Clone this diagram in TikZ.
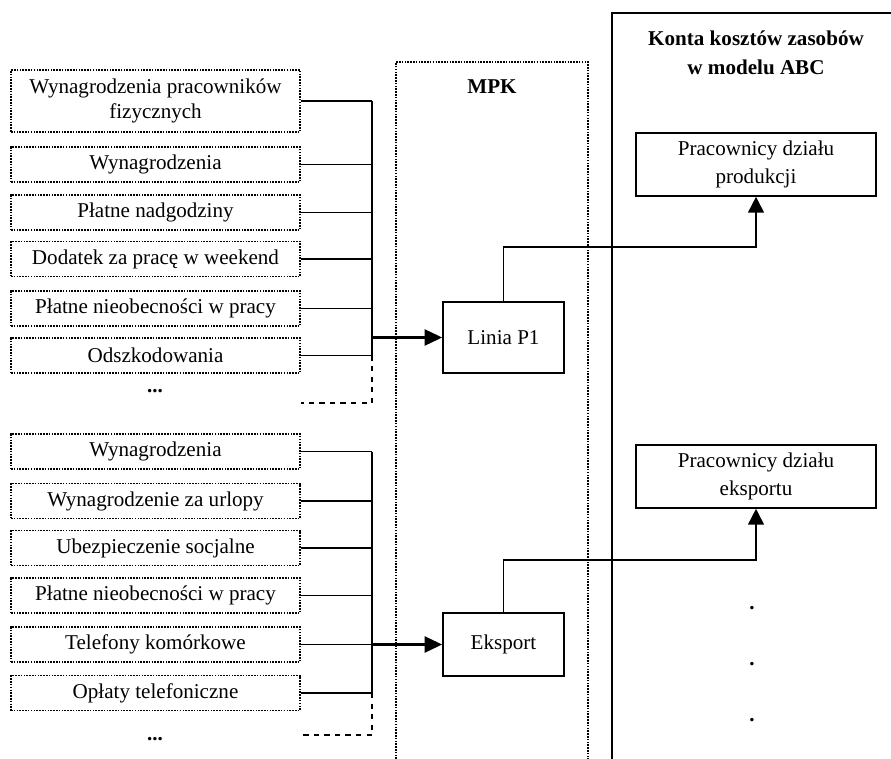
\documentclass[tikz,border=0pt]{standalone}
\usepackage{fontspec}
\setmainfont{Liberation Serif}
\usetikzlibrary{arrows.meta}

\begin{document}
\fontsize{12}{14}\selectfont
\begin{tikzpicture}%
            [x = 0.02cm, y = -0.02cm,
             koszt/.style = {draw, dash pattern = on 0.9pt off 0.7pt, line width = 0.8pt, minimum width = 5.78cm, minimum height = 0.7cm, align = center, inner sep = 1pt, font = \fontsize{12}{14}\selectfont},
             obiekt/.style = {draw, line width = 0.9pt, align = center, font = \fontsize{12}{15.5}\selectfont},
             linia/.style = {line width = 0.7pt},
             zbior/.style = {line width = 0.8pt},
             wejscie/.style = {line width = 1.7pt, -{Triangle[length = 10pt, width = 9pt]}},
             wyjscie/.style = {line width = 0.9pt, -{Triangle[length = 9pt, width = 9pt]}}]
            \useasboundingbox (0,0) rectangle (891,759);
            % ramy
            \draw [line width = 0.9pt] (612,759) -- (612,13) -- (891,13);
            \draw [dash pattern = on 0.9pt off 0.7pt, line width = 0.8pt] (396,759) -- (396,62) -- (588,62) -- (588,759);
            \node [font = \fontsize{12}{14}\selectfont\bfseries] (mpk) at (492,87) {MPK};
            \node [font = \fontsize{12}{16.5}\selectfont\bfseries, align = center] (abc) at (756,53) {Konta kosztów zasobów\\w modelu ABC};

            % koszty - linia
            \node [koszt, minimum height = 1.24cm] (w1) at (155.5,101) {Wynagrodzenia pracowników\\fizycznych};
            \node [koszt] (w2) at (155.5,164.5) {Wynagrodzenia};
            \node [koszt] (w3) at (155.5,212.5) {Płatne nadgodziny};
            \node [koszt] (w4) at (155.5,259) {Dodatek za pracę w weekend};
            \node [koszt] (w5) at (155.5,308.5) {Płatne nieobecności w pracy};
            \node [koszt] (w6) at (155.5,355.5) {Odszkodowania};
            \node [anchor = base, font = \fontsize{12}{14}\selectfont\bfseries] (d1) at (155,393) {...};

            % koszty - eksport
            \node [koszt] (e1) at (155.5,451.5) {Wynagrodzenia};
            \node [koszt] (e2) at (155.5,501) {Wynagrodzenie za urlopy};
            \node [koszt] (e3) at (155.5,548) {Ubezpieczenie socjalne};
            \node [koszt] (e4) at (155.5,595.5) {Płatne nieobecności w pracy};
            \node [koszt] (e5) at (155.5,644.5) {Telefony komórkowe};
            \node [koszt] (e6) at (155.5,693) {Opłaty telefoniczne};
            \node [anchor = base, font = \fontsize{12}{14}\selectfont\bfseries] (d2) at (155,740) {...};

            % mpk i konta
            \node [obiekt, minimum width = 2.42cm, minimum height = 1.42cm] (p1) at (503.5,337.5) {Linia P1};
            \node [obiekt, minimum width = 2.42cm, minimum height = 1.26cm] (eks) at (503.5,644.5) {Eksport};
            \node [obiekt, minimum width = 4.8cm, minimum height = 1.26cm] (prod) at (756,164.5) {Pracownicy działu\\produkcji};
            \node [obiekt, minimum width = 4.8cm, minimum height = 1.26cm] (exp) at (756,476.5) {Pracownicy działu\\eksportu};
            \foreach \y/\n in {609/1, 665/2, 721/3}
                \node [anchor = base, inner sep = 0pt, font = \fontsize{12}{14}\selectfont\bfseries] (kropka\n) at (752,\y) {.};

            % szyny
            \coordinate (s1) at (372,0);
            \coordinate (k1) at (372,403);
            \coordinate (k2) at (372,735);
            \foreach \n in {w1,w2,w3,w4,w5,w6,e1,e2,e3,e4,e5,e6}
                \draw [linia] (\n.east) -- (\n.east -| s1);
            \draw [zbior] (w1.east -| s1) -- (w6.east -| s1);
            \draw [zbior] (e1.east -| s1) -- (e6.east -| s1);
            \draw [linia, dashed] (w6.east -| s1) -- (k1) -- (k1 -| w6.east);
            \draw [linia, dashed] (e6.east -| s1) -- (k2) -- (k2 -| e6.east);

            \draw [wejscie] (p1.west -| s1) -- (p1.west);
            \draw [wejscie] (eks.west -| s1) -- (eks.west);
            \draw [wyjscie] (p1.north) -- ++(0,-54) -| (prod.south);
            \draw [wyjscie] (eks.north) -- ++(0,-52) -| (exp.south);
        \end{tikzpicture}
\end{document}
